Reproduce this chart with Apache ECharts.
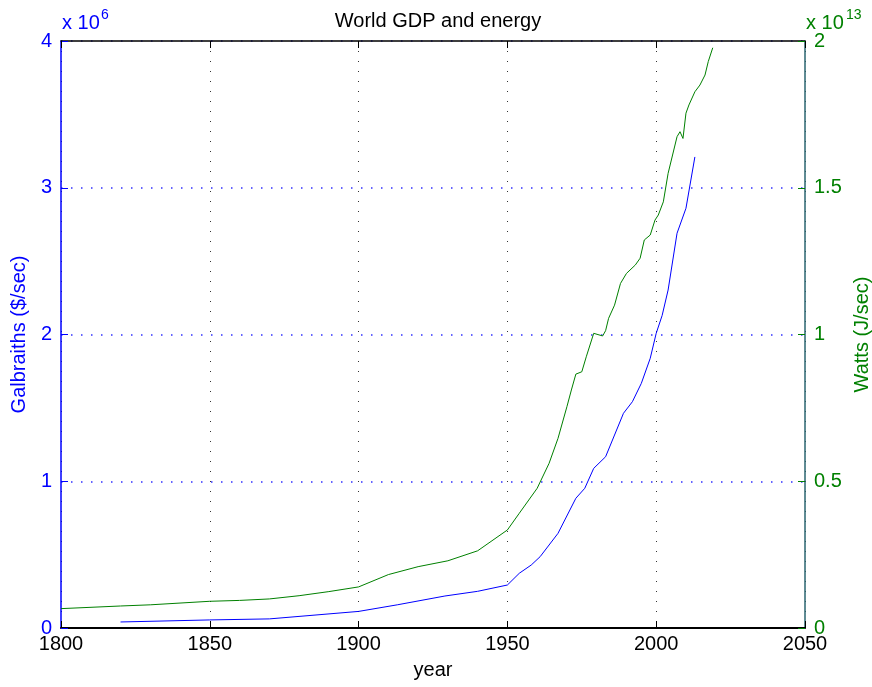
<!DOCTYPE html>
<html>
<head>
<meta charset="utf-8">
<script src="https://cdn.jsdelivr.net/npm/echarts@6/dist/echarts.min.js"></script>
<style>html,body{margin:0;padding:0;background:#fff}#c{width:872px;height:687px}</style>
</head>
<body>
<div id="c"></div>
<script>
// World GDP in Galbraiths (x 10^6 $/sec)
var gdpYears  = [1820, 1850, 1870, 1900, 1913, 1929, 1940, 1950, 1954, 1958, 1961, 1967, 1973, 1976, 1979, 1983, 1986, 1989, 1992, 1995, 1998, 2000, 2002, 2004, 2007, 2010, 2013];
var gdpValues = [0.041, 0.055, 0.062, 0.113, 0.158, 0.218, 0.25, 0.293, 0.373, 0.429, 0.486, 0.645, 0.884, 0.952, 1.088, 1.167, 1.315, 1.463, 1.542, 1.667, 1.838, 2.008, 2.13, 2.303, 2.69, 2.86, 3.21];
// World energy use in Watts (x 10^13 J/sec)
var energyYears  = [1800, 1820, 1830, 1850, 1860, 1870, 1880, 1890, 1900, 1910, 1920, 1930, 1940, 1950, 1954, 1960, 1964, 1967, 1970, 1971.5, 1973, 1975, 1976.5, 1979, 1982, 1983, 1984, 1986, 1988, 1990, 1993, 1994.6, 1996, 1998, 1999.6, 2000.7, 2002.4, 2004, 2007, 2008, 2009, 2010, 2011, 2013, 2014.7, 2016.4, 2017.5, 2019];
var energyValues = [0.066, 0.075, 0.079, 0.091, 0.094, 0.099, 0.11, 0.124, 0.14, 0.182, 0.209, 0.229, 0.263, 0.334, 0.391, 0.476, 0.561, 0.646, 0.754, 0.811, 0.865, 0.873, 0.924, 1.004, 0.995, 1.013, 1.055, 1.1, 1.174, 1.208, 1.237, 1.26, 1.322, 1.339, 1.39, 1.407, 1.452, 1.549, 1.674, 1.691, 1.668, 1.754, 1.782, 1.827, 1.85, 1.884, 1.93, 1.977];
var xTicks = [1800, 1850, 1900, 1950, 2000, 2050];
var leftTicks = [0, 1, 2, 3, 4];
var rightTicks = [0, 0.5, 1, 1.5, 2];

var FONT = 'Liberation Sans, Arial, Helvetica, sans-serif';
function pairs(xs, ys) { return xs.map(function (x, i) { return [x, ys[i]]; }); }

var chart = echarts.init(document.getElementById('c'), null, {renderer: 'canvas'});
chart.setOption({
  animation: false,
  backgroundColor: '#fff',
  title: {
    text: 'World GDP and energy', left: 433, top: 6, textAlign: 'center',
    textStyle: {fontFamily: FONT, fontSize: 20, fontWeight: 'normal', color: '#000'}
  },
  grid: {left: 61, right: 67, top: 41, bottom: 59, containLabel: false, outerBoundsMode: 'none'},
  xAxis: [{
    type: 'value', min: xTicks[0], max: xTicks[xTicks.length - 1], interval: 50,
    position: 'bottom',
    name: 'year', nameLocation: 'middle', nameGap: 32,
    nameTextStyle: {fontFamily: FONT, fontSize: 20, color: '#000'},
    axisLine: {onZero: false, lineStyle: {color: '#000', width: 2}},
    axisTick: {inside: true, length: 7, lineStyle: {color: '#000', width: 1}},
    axisLabel: {fontFamily: FONT, fontSize: 20, color: '#000', margin: 6, formatter: function (v) { return String(v); }},
    splitLine: {show: true, lineStyle: {color: '#333', width: 1, type: [1, 9]}}
  }, {
    type: 'value', min: xTicks[0], max: xTicks[xTicks.length - 1], interval: 50,
    position: 'top',
    axisLine: {onZero: false, lineStyle: {color: '#000', width: 1.5}},
    axisTick: {inside: true, length: 7, lineStyle: {color: '#000', width: 1}},
    axisLabel: {show: false},
    splitLine: {show: false}
  }],
  yAxis: [{
    type: 'value', min: leftTicks[0], max: leftTicks[leftTicks.length - 1], interval: 1,
    position: 'left',
    name: 'Galbraiths ($/sec)', nameLocation: 'middle', nameGap: 27, nameRotate: 90,
    nameTextStyle: {fontFamily: FONT, fontSize: 20, color: '#0000ff'},
    axisLine: {show: true, onZero: false, lineStyle: {color: '#0000ff', width: 1.5}},
    axisTick: {show: true, inside: true, length: 7, lineStyle: {color: '#0000ff'}},
    axisLabel: {fontFamily: FONT, fontSize: 20, color: '#0000ff', margin: 9},
    splitLine: {show: true, lineStyle: {color: '#3030ff', width: 1.5, type: [1.5, 8.5]}}
  }, {
    type: 'value', min: rightTicks[0], max: rightTicks[rightTicks.length - 1], interval: 0.5,
    position: 'right',
    name: 'Watts (J/sec)', nameLocation: 'middle', nameGap: 45, nameRotate: 90,
    nameTextStyle: {fontFamily: FONT, fontSize: 20, color: '#008000'},
    axisLine: {show: true, onZero: false, lineStyle: {color: '#2a6470', width: 1.5}},
    axisTick: {show: true, inside: true, length: 7, lineStyle: {color: '#008000'}},
    axisLabel: {fontFamily: FONT, fontSize: 20, color: '#008000', margin: 9},
    splitLine: {show: false}
  }],
  graphic: [
    {type: 'text', left: 62, top: 13, style: {text: 'x 10', font: '20px ' + FONT, fill: '#0000ff'}},
    {type: 'text', left: 101, top: 8, style: {text: '6', font: '14px ' + FONT, fill: '#0000ff'}},
    {type: 'text', left: 806, top: 13, style: {text: 'x 10', font: '20px ' + FONT, fill: '#008000'}},
    {type: 'text', left: 846, top: 8, style: {text: '13', font: '14px ' + FONT, fill: '#008000'}}
  ],
  series: [{
    name: 'GDP', type: 'line', xAxisIndex: 0, yAxisIndex: 0, showSymbol: false, symbol: 'none',
    lineStyle: {color: '#0000ff', width: 1}, data: pairs(gdpYears, gdpValues), z: 3
  }, {
    name: 'Energy', type: 'line', xAxisIndex: 0, yAxisIndex: 1, showSymbol: false, symbol: 'none',
    lineStyle: {color: '#008000', width: 1}, data: pairs(energyYears, energyValues), z: 3
  }]
});
</script>
</body>
</html>
